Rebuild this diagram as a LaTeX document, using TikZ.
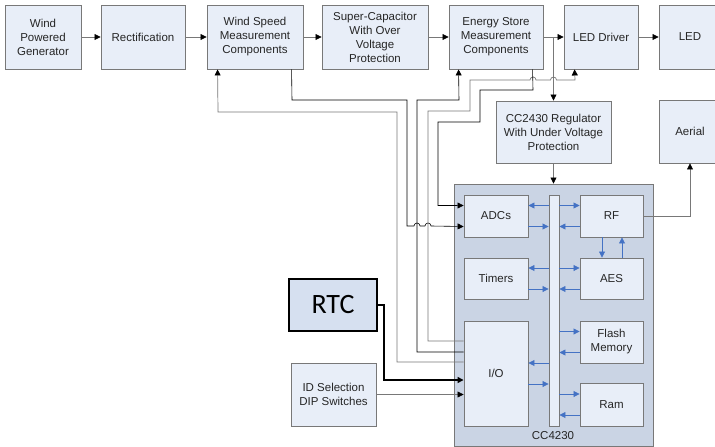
\documentclass[tikz,border=0pt]{standalone}
\usepackage{fontspec}
\setmainfont{Liberation Sans}
\newfontfamily\rtcfont{Carlito}
\usetikzlibrary{calc}
\usetikzlibrary{arrows.meta}
\definecolor{boxfill}{RGB}{232,238,248}
\definecolor{boxline}{RGB}{120,120,120}
\definecolor{chipfill}{RGB}{202,212,228}
\definecolor{rtcfill}{RGB}{214,224,240}
\definecolor{busblue}{RGB}{68,114,196}
\definecolor{wire}{RGB}{120,120,120}

\begin{document}
\begin{tikzpicture}[x=1pt, y=-1pt,
		blk/.style={draw=boxline, fill=boxfill, line width=0.9pt, align=center, inner sep=0pt, text=black!85, font=\fontsize{11.5}{14}\selectfont},
		feed/.style={draw=wire, line width=0.7pt, -{Triangle[length=6pt, width=6pt, color=black]}},
		sig/.style={draw=black, line width=0.6pt, -{Triangle[length=6pt, width=6pt]}},
		busarr/.style={draw=busblue, line width=0.8pt, -{Triangle[length=6pt, width=6pt]}}]
	\fill[white] (0,0) rectangle (715,447);
	\clip (0,0) rectangle (715,447);
	\node[blk, minimum width=76pt, minimum height=64pt] (gen) at (43,37) {Wind\\Powered\\Generator};
	\node[blk, minimum width=84pt, minimum height=64pt] (rect) at (143,37) {Rectification};
	\node[blk, minimum width=96pt, minimum height=64pt] (ws) at (255,37) {Wind Speed\\Measurement\\Components};
	\node[blk, minimum width=106pt, minimum height=64pt] (sc) at (375,37) {Super-Capacitor\\With Over\\Voltage\\Protection};
	\node[blk, minimum width=94pt, minimum height=64pt] (es) at (496,37) {Energy Store\\Measurement\\Components};
	\node[blk, minimum width=74pt, minimum height=64pt] (drv) at (601,37) {LED Driver};
	\node[blk, minimum width=62pt, minimum height=64pt] (led) at (690,37) {LED};
	\node[blk, minimum width=115pt, minimum height=62pt] (reg) at (553.5,132) {CC2430 Regulator\\With Under Voltage\\Protection};
	\node[blk, minimum width=62pt, minimum height=63pt] (aer) at (690,131.5) {Aerial};
	\node[blk, fill=chipfill, minimum width=199pt, minimum height=262pt] (cc) at (553.5,315) {};
	\node[blk, draw=none, fill=none] (cclbl) at (553,436) {CC4230};
	\node[blk, minimum width=10pt, minimum height=231pt] (bar) at (554,310.5) {};
	\node[blk, minimum width=64pt, minimum height=42pt] (adc) at (496,216) {ADCs};
	\node[blk, minimum width=64pt, minimum height=41pt] (tim) at (496,278.5) {Timers};
	\node[blk, minimum width=64pt, minimum height=105pt] (io) at (496,373.5) {I/O};
	\node[blk, minimum width=63pt, minimum height=42pt] (rf) at (611.5,216) {RF};
	\node[blk, minimum width=63pt, minimum height=41pt] (aes) at (611.5,278.5) {AES};
	\node[blk, minimum width=63pt, minimum height=42pt] (flash) at (611.5,342) {Flash\\Memory};
	\node[blk, minimum width=63pt, minimum height=43pt] (ram) at (611.5,404.5) {Ram};
	\node[blk, draw=black, fill=rtcfill, line width=1.2pt, text=black, minimum width=88pt, minimum height=52pt, font=\rtcfont\fontsize{28}{30}\selectfont] (rtc) at (333,305) {RTC};
	\node[blk, minimum width=85pt, minimum height=63pt] (dip) at (333.5,394.5) {ID Selection\\DIP Switches};
	\foreach \a/\b in {gen/rect, rect/ws, ws/sc, sc/es, es/drv, drv/led}
		\draw[feed] (\a) -- (\b);
	\draw[feed] (es.east -| reg.north) -- (reg.north);
	\draw[feed] (reg.south) -- (reg.south |- cc.north);
	\draw[feed] (rf.east) -| (aer.south);
	\draw[sig] ([xshift=85pt]ws.south west) -- (292,100) -- (407,100) -- (407,226) -- (414,226) arc[start angle=180, end angle=360, radius=3] -- (425,226) arc[start angle=180, end angle=360, radius=3] -- ($(adc.west)+(0,10.5)$);
	\draw[feed] ($(io.west)+(0,-11.5)$) -- (397,362) -- (397,112) -- (218,112) -- ([xshift=11pt]ws.south west);
	\draw[sig] ($(io.west)+(0,-21.5)$) -- (417,352) -- (417,100) -- (459,100) -- ([xshift=10pt]es.south west);
	\draw[feed] ($(io.west)+(0,-32.5)$) -- (428,341) -- (428,111) -- (470,111) -- (470,80) -- (530,80) arc[start angle=180, end angle=360, radius=3] -- (550.5,80) arc[start angle=180, end angle=360, radius=3] -- (575,80) -- ([xshift=11pt]drv.south west);
	\draw[sig] ([xshift=84pt]es.south west) -- (533,90) -- (480,90) -- (480,122) -- (438,122) -- (438,205.5) -- ($(adc.west)+(0,-10.5)$);
	\draw[sig, line width=1.3pt] (rtc.east) -- (384,305) -- (384,380) -- ($(io.west)+(0,6.5)$);
	\draw[feed, line width=0.6pt] (dip.east) -- (dip.east -| io.west);
	\foreach \m in {adc,tim,io} {
		\draw[busarr] ($(\m.east -| bar.west)+(0,-10.5)$) -- ($(\m.east)+(0,-10.5)$);
		\draw[busarr] ($(\m.east)+(0,10.5)$) -- ($(\m.east -| bar.west)+(0,10.5)$);
	}
	\foreach \m in {rf,aes,flash,ram} {
		\draw[busarr] ($(\m.west -| bar.east)+(0,-10.5)$) -- ($(\m.west)+(0,-10.5)$);
		\draw[busarr] ($(\m.west)+(0,10.5)$) -- ($(\m.west -| bar.east)+(0,10.5)$);
	}
	\draw[busarr] ($(rf.south)+(-9.5,0)$) -- ($(aes.north)+(-9.5,0)$);
	\draw[busarr] ($(aes.north)+(10.5,0)$) -- ($(rf.south)+(10.5,0)$);
\end{tikzpicture}
\end{document}
